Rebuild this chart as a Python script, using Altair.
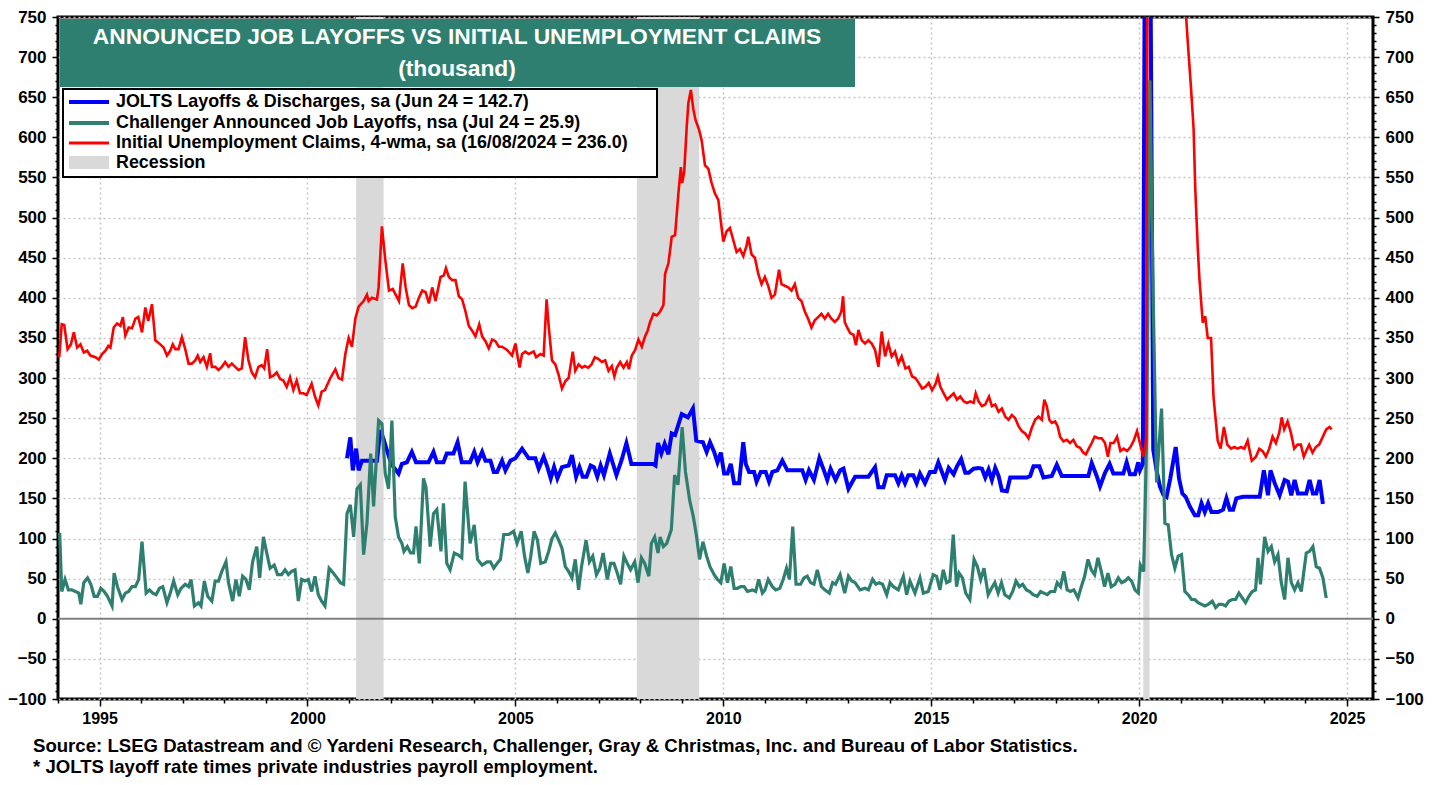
import altair as alt
import pandas as pd

# ---------------- data ----------------
red_year = [1994.03,1994.09,1994.15,1994.23,1994.31,1994.38,1994.46,1994.54,1994.62,1994.70,1994.78,1994.90,1994.98,
            1995.06,1995.14,1995.21,1995.26,1995.34,1995.42,1995.50,1995.56,1995.62,1995.70,1995.78,1995.86,1995.93,
            1996.02,1996.10,1996.17,1996.26,1996.34,1996.46,1996.54,1996.62,1996.70,1996.76,1996.82,1996.90,1996.98,
            1997.06,1997.14,1997.22,1997.30,1997.36,1997.42,1997.50,1997.58,1997.66,1997.70,1997.78,1997.86,1997.94,
            1998.02,1998.10,1998.18,1998.26,1998.34,1998.42,1998.50,1998.58,1998.66,1998.74,1998.82,1998.90,1998.96,
            1999.03,1999.10,1999.18,1999.26,1999.34,1999.42,1999.50,1999.58,1999.66,1999.74,1999.82,1999.90,1999.98,
            2000.10,2000.18,2000.26,2000.34,2000.42,2000.47,2000.55,2000.67,2000.75,2000.83,2000.91,2000.99,
            2001.07,2001.15,2001.23,2001.35,2001.43,2001.47,2001.55,2001.67,2001.71,2001.79,2001.87,2001.96,
            2002.05,2002.12,2002.20,2002.29,2002.36,2002.44,2002.52,2002.60,2002.68,2002.76,2002.84,2002.92,
            2003.00,2003.08,2003.20,2003.28,2003.33,2003.40,2003.48,2003.56,2003.64,2003.72,2003.80,2003.88,2003.96,
            2004.04,2004.13,2004.20,2004.28,2004.36,2004.44,2004.52,2004.60,2004.68,2004.80,2004.92,
            2005.00,2005.10,2005.16,2005.24,2005.32,2005.44,2005.50,2005.60,2005.68,2005.75,2005.80,2005.88,2005.96,
            2006.04,2006.12,2006.20,2006.28,2006.38,2006.44,2006.52,2006.60,2006.67,2006.75,2006.83,2006.91,2006.99,
            2007.08,2007.16,2007.24,2007.32,2007.38,2007.44,2007.52,2007.60,2007.68,2007.73,2007.80,2007.88,2007.96,
            2008.04,2008.12,2008.18,2008.24,2008.32,2008.40,2008.48,2008.56,2008.60,2008.68,2008.76,2008.84,2008.92,2008.98,
            2009.01,2009.06,2009.12,2009.16,2009.22,2009.28,2009.33,2009.42,2009.48,2009.56,2009.64,2009.72,2009.80,2009.88,2009.96,
            2010.00,2010.08,2010.16,2010.24,2010.32,2010.40,2010.48,2010.56,2010.60,2010.68,2010.76,2010.84,2010.92,
            2011.00,2011.08,2011.16,2011.24,2011.34,2011.40,2011.48,2011.56,2011.64,2011.72,2011.80,2011.88,2011.96,
            2012.04,2012.12,2012.20,2012.28,2012.36,2012.44,2012.52,2012.60,2012.68,2012.76,2012.84,2012.88,2012.92,2012.97,
            2013.05,2013.13,2013.19,2013.25,2013.33,2013.41,2013.49,2013.57,2013.65,2013.73,2013.81,2013.89,2013.97,
            2014.05,2014.13,2014.21,2014.29,2014.38,2014.46,2014.54,2014.62,2014.70,2014.78,2014.86,2014.94,
            2015.02,2015.10,2015.16,2015.22,2015.30,2015.38,2015.46,2015.54,2015.62,2015.70,2015.78,2015.86,2015.94,
            2016.02,2016.07,2016.14,2016.22,2016.30,2016.39,2016.46,2016.54,2016.62,2016.70,2016.78,2016.86,2016.94,
            2017.02,2017.10,2017.18,2017.26,2017.34,2017.42,2017.50,2017.58,2017.66,2017.72,2017.78,2017.84,2017.90,2017.98,
            2018.04,2018.10,2018.18,2018.26,2018.34,2018.42,2018.50,2018.58,2018.66,2018.72,2018.78,2018.86,2018.93,
            2019.02,2019.10,2019.18,2019.25,2019.31,2019.39,2019.47,2019.55,2019.63,2019.71,2019.79,2019.87,2019.95,
            2020.03,2020.09,2020.13,2020.17,2020.21,2020.24,2020.27,2020.31,2020.38,2020.50,2020.65,2020.80,
            2021.00,2021.13,2021.17,2021.25,2021.31,2021.35,2021.41,2021.45,2021.53,2021.59,2021.65,2021.73,2021.79,2021.89,2021.96,
            2022.04,2022.12,2022.21,2022.29,2022.37,2022.45,2022.53,2022.61,2022.71,2022.81,2022.89,2022.97,
            2023.05,2023.13,2023.21,2023.29,2023.37,2023.43,2023.49,2023.57,2023.65,2023.73,2023.81,2023.89,2023.96,
            2024.02,2024.09,2024.17,2024.25,2024.33,2024.42,2024.50,2024.58,2024.63]
red_val = [326,367,366,336,342,357,338,342,332,334,328,326,323,
           330,334,340,338,363,368,365,376,353,363,362,374,376,
           357,388,371,392,347,342,338,328,334,342,336,336,351,
           336,318,318,322,328,320,326,314,331,314,314,310,314,
           320,314,318,314,310,312,351,322,307,301,314,316,312,
           336,301,303,307,299,297,289,301,285,297,281,281,279,
           293,277,266,283,285,291,300,311,300,298,330,350,
           339,374,389,396,404,396,400,398,413,489,448,409,
           411,404,396,443,413,391,387,389,400,409,407,393,
           413,396,426,428,437,426,422,422,402,398,383,365,359,
           352,367,352,346,337,348,346,339,339,335,328,
           343,313,330,333,330,333,326,330,328,398,365,322,317,
           304,287,296,300,333,309,317,313,315,313,317,326,324,
           320,322,309,315,302,313,320,313,320,311,328,335,348,
           339,352,359,370,380,378,383,391,430,443,476,478,530,563,
           543,557,613,643,659,635,622,609,596,565,561,543,530,522,487,
           470,483,487,472,457,461,452,465,476,454,450,430,417,
           426,415,400,404,435,417,415,413,409,417,400,396,383,
           374,363,372,376,380,374,380,374,370,374,383,402,370,364,
           356,354,341,360,347,343,347,343,335,314,358,327,343,
           327,333,318,327,312,314,302,300,294,287,289,294,
           285,292,302,289,281,273,277,281,273,277,271,269,271,
           269,281,271,265,267,277,265,267,258,262,252,248,254,
           250,240,234,231,225,238,248,252,248,273,265,248,244,246,
           240,227,221,223,219,223,215,213,207,205,211,219,227,
           225,225,219,202,219,219,227,209,212,209,214,222,234,
           217,204,207,225,1000,2600,4200,5000,3500,1800,1200,850,
           830,751,719,660,611,537,463,424,369,377,350,350,276,222,212,
           239,217,212,214,212,214,212,222,197,202,212,209,
           202,212,227,219,232,251,236,246,232,212,217,217,202,
           209,217,207,214,217,227,236,239,236]

blue_year = [2000.95,2001.03,2001.09,2001.17,2001.23,2001.31,2001.43,2001.55,2001.67,2001.75,2001.83,2001.91,2001.99,
             2002.07,2002.19,2002.27,2002.39,2002.51,2002.61,2002.75,2002.91,2003.03,2003.11,2003.27,2003.35,2003.51,
             2003.61,2003.71,2003.91,2004.01,2004.09,2004.20,2004.28,2004.40,2004.48,2004.56,2004.68,2004.76,2004.88,
             2005.00,2005.16,2005.32,2005.48,2005.56,2005.68,2005.77,2005.85,2005.93,2006.01,2006.12,2006.28,2006.36,
             2006.46,2006.54,2006.62,2006.71,2006.81,2006.89,2006.97,2007.05,2007.13,2007.27,2007.43,2007.55,2007.67,
             2007.79,2008.31,2008.37,2008.43,2008.51,2008.59,2008.68,2008.76,2008.84,2009.00,2009.15,2009.27,2009.35,
             2009.51,2009.60,2009.68,2009.78,2009.86,2009.94,2010.02,2010.10,2010.18,2010.26,2010.38,2010.48,2010.54,
             2010.62,2010.74,2010.80,2010.90,2011.02,2011.10,2011.18,2011.30,2011.42,2011.54,2011.90,2011.98,2012.06,
             2012.18,2012.31,2012.42,2012.50,2012.58,2012.70,2012.81,2012.89,2013.01,2013.17,2013.49,2013.65,2013.73,
             2013.85,2013.93,2014.13,2014.21,2014.29,2014.37,2014.45,2014.57,2014.65,2014.73,2014.85,2014.97,2015.09,
             2015.17,2015.33,2015.42,2015.54,2015.62,2015.72,2015.82,2015.90,2016.02,2016.14,2016.22,2016.30,2016.38,
             2016.46,2016.54,2016.62,2016.70,2016.82,2016.90,2017.06,2017.30,2017.38,2017.46,2017.60,2017.70,2017.90,
             2018.02,2018.14,2018.30,2018.54,2018.78,2018.86,2018.98,2019.06,2019.18,2019.29,2019.38,2019.62,2019.70,
             2019.78,2019.90,2019.98,2020.02,2020.09,2020.17,2020.26,2020.34,2020.42,2020.50,2020.58,2020.66,2020.75,
             2020.88,2020.96,2021.04,2021.12,2021.22,2021.34,2021.42,2021.50,2021.58,2021.66,2021.74,2021.90,2022.02,
             2022.10,2022.18,2022.26,2022.34,2022.50,2022.90,2023.00,2023.10,2023.16,2023.26,2023.38,2023.50,2023.58,
             2023.66,2023.74,2023.82,2023.90,2024.02,2024.10,2024.18,2024.26,2024.34,2024.42]
blue_val = [200,226,185,212,185,197,197,197,197,235,224,210,197,
            189,181,193,195,208,195,195,195,208,195,195,206,206,
            220,195,195,208,195,208,197,197,183,183,197,185,197,
            200,212,200,200,187,202,189,175,189,175,189,191,204,
            177,189,177,177,191,189,177,191,179,206,179,197,219,
            193,193,191,219,206,218,205,231,229,255,251,262,222,
            220,208,220,208,195,207,181,181,193,169,169,220,193,
            183,183,171,183,183,171,183,185,197,185,185,173,185,
            173,200,185,173,187,173,185,187,162,177,177,189,164,
            164,179,179,169,179,169,179,179,169,181,169,183,183,
            195,173,188,180,190,199,182,182,187,188,187,176,186,
            173,188,178,160,159,176,176,176,178,190,190,176,178,
            192,178,178,178,178,194,178,165,182,193,181,181,195,
            180,180,195,185,193,1300,930,211,185,165,155,152,175,
            214,175,156,152,140,129,129,144,133,144,133,133,136,
            150,136,136,150,152,152,185,154,185,169,154,173,171,
            154,173,156,156,156,173,156,156,173,143]

teal_year = [1994.04,1994.09,1994.17,1994.25,1994.33,1994.42,1994.50,1994.55,1994.62,1994.71,1994.79,1994.87,1994.95,
             1995.03,1995.11,1995.19,1995.30,1995.35,1995.43,1995.54,1995.62,1995.70,1995.78,1995.86,1995.94,
             1996.02,1996.12,1996.20,1996.28,1996.36,1996.44,1996.52,1996.62,1996.70,1996.78,1996.88,1996.96,
             1997.06,1997.14,1997.20,1997.28,1997.38,1997.44,1997.52,1997.60,1997.70,1997.78,1997.86,1997.94,
             1998.04,1998.10,1998.20,1998.28,1998.36,1998.44,1998.52,1998.60,1998.68,1998.78,1998.85,1998.94,
             1999.02,1999.10,1999.20,1999.28,1999.38,1999.46,1999.54,1999.62,1999.70,1999.78,1999.86,1999.94,
             2000.02,2000.10,2000.18,2000.26,2000.34,2000.42,2000.52,2000.62,2000.71,2000.79,2000.87,2000.95,
             2001.03,2001.11,2001.19,2001.27,2001.35,2001.43,2001.52,2001.59,2001.71,2001.79,2001.87,2001.95,
             2002.03,2002.11,2002.19,2002.27,2002.32,2002.40,2002.48,2002.55,2002.61,2002.69,2002.79,2002.85,2002.95,
             2003.03,2003.11,2003.21,2003.27,2003.35,2003.43,2003.53,2003.61,2003.71,2003.79,2003.91,
             2004.01,2004.09,2004.20,2004.32,2004.40,2004.48,2004.56,2004.64,2004.72,2004.84,2004.96,
             2005.04,2005.14,2005.22,2005.30,2005.37,2005.45,2005.53,2005.61,2005.72,2005.80,2005.88,2005.96,
             2006.04,2006.12,2006.20,2006.28,2006.36,2006.44,2006.52,2006.59,2006.70,2006.78,2006.86,2006.95,
             2007.03,2007.11,2007.21,2007.29,2007.37,2007.45,2007.53,2007.61,2007.69,2007.77,2007.87,2007.95,
             2008.03,2008.11,2008.21,2008.27,2008.35,2008.43,2008.48,2008.56,2008.64,2008.75,2008.83,2008.91,
             2009.01,2009.09,2009.19,2009.28,2009.35,2009.43,2009.51,2009.60,2009.68,2009.78,2009.86,2009.94,
             2010.02,2010.10,2010.18,2010.26,2010.34,2010.42,2010.50,2010.58,2010.70,2010.78,2010.85,2010.94,
             2011.00,2011.08,2011.18,2011.26,2011.36,2011.44,2011.52,2011.59,2011.67,2011.75,2011.86,2011.94,
             2012.02,2012.10,2012.18,2012.26,2012.36,2012.44,2012.55,2012.63,2012.70,2012.81,2012.92,
             2013.01,2013.09,2013.17,2013.29,2013.41,2013.49,2013.59,2013.67,2013.75,2013.83,2013.93,
             2014.01,2014.09,2014.21,2014.33,2014.41,2014.49,2014.61,2014.73,2014.81,2014.93,
             2015.05,2015.13,2015.21,2015.29,2015.37,2015.45,2015.53,2015.61,2015.67,2015.75,2015.83,2015.93,
             2016.03,2016.11,2016.19,2016.27,2016.37,2016.45,2016.53,2016.61,2016.69,2016.77,2016.88,2016.96,
             2017.04,2017.12,2017.20,2017.29,2017.37,2017.45,2017.55,2017.63,2017.71,2017.79,2017.87,2017.97,
             2018.03,2018.11,2018.19,2018.27,2018.35,2018.43,2018.53,2018.61,2018.69,2018.77,2018.85,2018.93,
             2019.01,2019.09,2019.17,2019.25,2019.33,2019.42,2019.50,2019.58,2019.66,2019.74,2019.82,2019.90,2019.98,
             2020.03,2020.11,2020.18,2020.26,2020.34,2020.42,2020.54,2020.62,2020.70,2020.78,2020.86,2020.94,
             2021.02,2021.10,2021.18,2021.26,2021.34,2021.42,2021.50,2021.58,2021.66,2021.76,2021.84,2021.92,
             2022.00,2022.08,2022.16,2022.24,2022.32,2022.40,2022.48,2022.56,2022.64,2022.72,2022.80,2022.86,2022.92,
             2023.02,2023.10,2023.18,2023.26,2023.34,2023.42,2023.50,2023.58,2023.66,2023.74,2023.82,2023.90,
             2024.02,2024.10,2024.18,2024.26,2024.34,2024.42,2024.50]
teal_val = [107,34,49,36,36,34,32,18,45,51,43,28,28,
            38,34,28,16,57,40,24,32,34,40,40,49,
            96,32,36,32,30,38,40,20,32,47,30,38,
            43,40,49,16,20,16,47,28,22,47,47,59,
            71,45,22,49,28,53,49,36,71,90,51,102,
            82,63,67,55,55,61,55,59,61,22,49,47,
            49,34,53,30,22,16,63,57,51,45,43,131,
            142,102,162,167,80,119,206,140,247,243,181,162,
            247,127,102,94,84,90,82,82,115,69,175,164,90,
            131,136,84,144,69,61,82,80,76,171,94,
            117,74,67,71,71,63,69,74,105,105,109,
            94,109,78,57,78,109,98,69,71,84,100,107,
            98,88,65,59,51,74,36,65,98,71,78,55,
            63,82,49,69,69,57,43,78,69,61,71,45,
            76,69,53,94,102,82,102,90,94,111,179,167,
            239,183,148,127,105,74,96,78,65,55,49,45,
            69,45,65,38,38,40,40,34,36,34,49,32,
            36,49,40,36,38,49,63,49,115,43,43,51,
            53,45,43,61,40,36,32,45,43,55,32,
            53,47,45,36,38,36,49,43,45,43,30,
            45,40,36,53,30,47,32,51,32,34,
            55,53,36,61,45,47,105,40,57,51,32,24,
            74,65,49,63,30,38,45,32,45,30,26,34,
            47,40,43,36,34,30,28,34,32,30,34,34,
            45,40,59,36,34,36,26,40,53,74,61,55,
            76,59,40,57,40,43,51,45,47,51,47,36,32,
            67,59,222,671,397,170,262,119,117,80,63,78,
            80,34,30,24,24,20,18,16,18,22,14,18,
            18,16,22,24,24,32,26,20,28,34,36,76,43,
            102,84,90,71,80,45,24,76,45,36,45,34,
            82,84,90,65,63,51,26]

rec_start = [2001.17, 2007.92, 2020.10]
rec_end = [2001.83, 2009.42, 2020.25]

legend_labels = ["JOLTS Layoffs & Discharges, sa (Jun 24 = 142.7)",
                 "Challenger Announced Job Layoffs, nsa (Jul 24 = 25.9)",
                 "Initial Unemployment Claims, 4-wma, sa (16/08/2024 = 236.0)",
                 "Recession"]
title_lines = ["ANNOUNCED JOB LAYOFFS VS INITIAL UNEMPLOYMENT CLAIMS", "(thousand)"]
source_lines = ["Source: LSEG Datastream and \u00a9 Yardeni Research, Challenger, Gray & Christmas, Inc. and Bureau of Labor Statistics.",
                "* JOLTS layoff rate times private industries payroll employment."]

x_tick_values = list(range(1994, 2026))
y_tick_values = list(range(-100, 751, 10))

# ---------------- styling ----------------
W, H = 1315, 682
FONT = "Liberation Sans"
BLUE, TEAL, RED, GRAY = "#0000FF", "#2F7F70", "#FF0000", "#D9D9D9"

red_df = pd.DataFrame({"year": red_year, "val": red_val})
blue_df = pd.DataFrame({"year": blue_year, "val": blue_val})
teal_df = pd.DataFrame({"year": teal_year, "val": teal_val})
rec_df = pd.DataFrame({"start": rec_start, "end": rec_end})
one = pd.DataFrame({"k": [0]})
zero_df = pd.DataFrame({"v": [0]})

xs = alt.Scale(domain=[1994.0, 2025.625], nice=False, zero=False)
ys = alt.Scale(domain=[-100, 750], nice=False, zero=False)

x_axis = alt.Axis(
    values=x_tick_values, format="d", title=None, orient="bottom",
    labelExpr="datum.value % 5 === 0 ? datum.label : ''",
    labelOverlap=False, labelFont=FONT, labelFontWeight="bold", labelFontSize=16,
    labelColor="black", labelPadding=4, labelFlush=False,
    tickColor="black", tickWidth=1.5,
    tickSize={"condition": {"test": "datum.value % 5 === 0", "value": 7}, "value": 4},
    domain=False, grid=True, gridColor="#C4C4C4", gridDash=[2, 3], gridWidth=1.5,
    gridOpacity={"condition": {"test": "datum.value % 5 === 0", "value": 1}, "value": 0},
)

def y_axis(orient, grid):
    kw = dict(
        values=y_tick_values, format="d", title=None, orient=orient,
        labelExpr="datum.value % 50 === 0 ? datum.label : ''",
        labelOverlap=False, labelFont=FONT, labelFontWeight="bold", labelFontSize=17,
        labelColor="black", labelPadding=6, labelFlush=False,
        tickColor="black", tickWidth=1.5,
        tickSize={"condition": {"test": "datum.value % 50 === 0", "value": 6}, "value": 3},
        domain=False, grid=grid,
    )
    if grid:
        kw.update(gridColor="#C4C4C4", gridDash=[2, 3], gridWidth=1.5,
                  gridOpacity={"condition": {"test": "datum.value % 50 === 0 && datum.value !== 0",
                                             "value": 1}, "value": 0})
    return alt.Axis(**kw)

rec = alt.Chart(rec_df).mark_rect(color=GRAY).encode(
    x=alt.X("start:Q", scale=xs, axis=x_axis), x2="end:Q",
    y=alt.value(0), y2=alt.value(H))

zero = alt.Chart(zero_df).mark_rule(color="#7F7F7F", strokeWidth=2).encode(
    y=alt.Y("v:Q", scale=ys, axis=None))

blue = alt.Chart(blue_df).mark_line(color=BLUE, strokeWidth=4, clip=True).encode(
    x=alt.X("year:Q", scale=xs, axis=x_axis),
    y=alt.Y("val:Q", scale=ys, axis=y_axis("right", False)))

teal = alt.Chart(teal_df).mark_line(color=TEAL, strokeWidth=3.2, clip=True).encode(
    x=alt.X("year:Q", scale=xs, axis=x_axis),
    y=alt.Y("val:Q", scale=ys, axis=None))

red = alt.Chart(red_df).mark_line(color=RED, strokeWidth=2.6, clip=True).encode(
    x=alt.X("year:Q", scale=xs, axis=x_axis),
    y=alt.Y("val:Q", scale=ys, axis=y_axis("left", True)))

title_box = alt.Chart(one).mark_rect(color=TEAL).encode(
    x=alt.value(2), x2=alt.value(797), y=alt.value(2), y2=alt.value(70))
title1 = alt.Chart(one).mark_text(text=title_lines[0], font=FONT, fontWeight="bold", fontSize=22.8,
                                  color="white", align="center", baseline="middle").encode(
    x=alt.value(399), y=alt.value(20))
title2 = alt.Chart(one).mark_text(text=title_lines[1], font=FONT, fontWeight="bold", fontSize=22.8,
                                  color="white", align="center", baseline="middle").encode(
    x=alt.value(399), y=alt.value(52))

leg_box = alt.Chart(one).mark_rect(color="white", stroke="black", strokeWidth=2).encode(
    x=alt.value(5), x2=alt.value(599), y=alt.value(72), y2=alt.value(160))

leg_rows_y = [85, 106, 126, 146]
leg_layers = []
for col, lw, yy in [(BLUE, 4, leg_rows_y[0]), (TEAL, 4, leg_rows_y[1]), (RED, 3, leg_rows_y[2])]:
    leg_layers.append(alt.Chart(one).mark_rule(color=col, strokeWidth=lw).encode(
        x=alt.value(11), x2=alt.value(51), y=alt.value(yy)))
leg_layers.append(alt.Chart(one).mark_rect(color=GRAY).encode(
    x=alt.value(11), x2=alt.value(51), y=alt.value(leg_rows_y[3] - 7), y2=alt.value(leg_rows_y[3] + 6)))
for lab, yy in zip(legend_labels, leg_rows_y):
    leg_layers.append(alt.Chart(one).mark_text(text=lab, font=FONT, fontWeight="bold", fontSize=17.9,
                                               color="black", align="left", baseline="middle").encode(
        x=alt.value(58), y=alt.value(yy)))

src1 = alt.Chart(one).mark_text(text=source_lines[0], font=FONT, fontWeight="bold", fontSize=18.6,
                                color="black", align="left", baseline="middle").encode(
    x=alt.value(-25), y=alt.value(729))
src2 = alt.Chart(one).mark_text(text=source_lines[1], font=FONT, fontWeight="bold", fontSize=18.6,
                                color="black", align="left", baseline="middle").encode(
    x=alt.value(-25), y=alt.value(750))

chart = alt.layer(
    rec, zero, blue, teal, red, title_box, title1, title2, leg_box, *leg_layers, src1, src2
).resolve_axis(y="independent").properties(
    width=W, height=H,
    padding={"left": 50, "top": 9, "right": 55, "bottom": 78},
    autosize=alt.AutoSizeParams(type="none"),
    background="white",
).configure_view(stroke="black", strokeWidth=3)

chart.save("out.html", embed_options={"renderer": "svg", "actions": False})
